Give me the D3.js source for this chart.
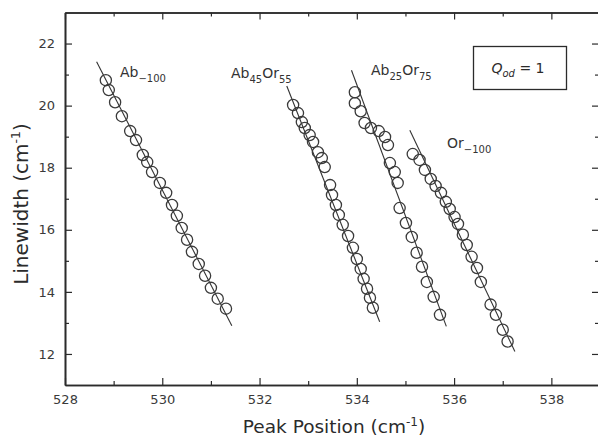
<!DOCTYPE html>
<html><head><meta charset="utf-8">
<script src="https://cdn.jsdelivr.net/npm/d3@7"></script>
<style>
html,body{margin:0;padding:0;background:#fff;}
svg{display:block;font-family:"DejaVu Sans",sans-serif;}
</style></head>
<body><svg id="c" width="598" height="438"></svg>
<script>
// ---- data (Peak position cm^-1, Linewidth cm^-1) ----
const ab100X = [528.84,528.90,529.03,529.17,529.34,529.46,529.60,529.69,529.79,529.95,530.08,530.20,530.30,530.40,530.51,530.61,530.75,530.88,531.00,531.14,531.31];
const ab100Y = [20.82,20.50,20.11,19.66,19.18,18.89,18.41,18.18,17.86,17.51,17.19,16.80,16.45,16.06,15.68,15.29,14.90,14.52,14.13,13.78,13.46];
const ab100Fit = [[528.65,21.41],[531.43,12.91]];

const ab45X = [532.69,532.79,532.87,532.93,533.03,533.10,533.20,533.28,533.34,533.45,533.49,533.57,533.63,533.71,533.82,533.92,534.00,534.08,534.14,534.21,534.27,534.33];
const ab45Y = [20.02,19.76,19.47,19.28,19.05,18.83,18.50,18.31,18.02,17.44,17.12,16.80,16.48,16.16,15.80,15.42,15.06,14.74,14.42,14.10,13.81,13.49];
const ab45Fit = [[532.56,20.63],[534.47,13.04]];

const ab25X = [533.96,533.96,534.08,534.16,534.29,534.45,534.58,534.64,534.68,534.78,534.84,534.88,535.01,535.13,535.23,535.34,535.44,535.58,535.71];
const ab25Y = [20.43,20.08,19.82,19.44,19.28,19.18,18.99,18.73,18.15,17.86,17.51,16.70,16.22,15.77,15.26,14.81,14.32,13.84,13.26];
const ab25Fit = [[533.89,21.14],[535.84,12.89]];

const or100X = [535.15,535.29,535.40,535.52,535.62,535.73,535.83,535.91,536.01,536.08,536.18,536.26,536.36,536.47,536.55,536.75,536.86,537.00,537.10];
const or100Y = [18.44,18.25,17.93,17.64,17.41,17.19,16.90,16.67,16.41,16.19,15.84,15.51,15.13,14.77,14.32,13.59,13.26,12.78,12.40];
const or100Fit = [[535.09,19.21],[537.25,12.08]];

const xMajor = [528,530,532,534,536,538];
const xMinor = [529,531,533,535,537];
const yMajor = [12,14,16,18,20,22];
const yMinor = [13,15,17,19,21];

// ---- chart ----
const svg = d3.select("#c");
const L = 65, R = 600, T = 12.5, B = 385;
const x = d3.scaleLinear().domain([528,539]).range([L,R]);
const y = d3.scaleLinear().domain([11,23]).range([B,T]);
const ink = "#2b2b2b";

const series = [
  {xs:ab100X, ys:ab100Y, fit:ab100Fit},
  {xs:ab45X, ys:ab45Y, fit:ab45Fit},
  {xs:ab25X, ys:ab25Y, fit:ab25Fit},
  {xs:or100X, ys:or100Y, fit:or100Fit}
];

const line = d3.line().x(d=>x(d[0])).y(d=>y(d[1]));
series.forEach(s=>{
  svg.append("path").attr("d", line(s.fit)).attr("fill","none")
     .attr("stroke","#333").attr("stroke-width",1.1);
});
series.forEach(s=>{
  svg.append("g").selectAll("circle").data(d3.range(s.xs.length)).join("circle")
    .attr("cx",i=>x(s.xs[i])).attr("cy",i=>y(s.ys[i])).attr("r",5.6)
    .attr("fill","none").attr("stroke","#3a3a3a").attr("stroke-width",1.3);
});

// axes
function styleAxis(g){
  g.select(".domain").attr("stroke",ink).attr("stroke-width",1.6);
  g.selectAll(".tick line").attr("stroke",ink).attr("stroke-width",1.2);
  g.selectAll(".tick text").attr("fill","#3a3a3a").attr("font-size",13)
   .attr("font-family","DejaVu Sans, sans-serif");
}
svg.append("g").attr("transform",`translate(0,${B})`)
  .call(d3.axisBottom(x).tickValues(xMajor).tickSize(-7).tickSizeOuter(0).tickPadding(10).tickFormat(d3.format("d"))).call(styleAxis);
svg.append("g").attr("transform",`translate(0,${B})`)
  .call(d3.axisBottom(x).tickValues(xMinor).tickSize(-4).tickSizeOuter(0).tickFormat("")).call(styleAxis);
svg.append("g").attr("transform",`translate(0,${T})`)
  .call(d3.axisTop(x).tickValues(xMajor).tickSize(-7).tickSizeOuter(0).tickFormat("")).call(styleAxis);
svg.append("g").attr("transform",`translate(0,${T})`)
  .call(d3.axisTop(x).tickValues(xMinor).tickSize(-4).tickSizeOuter(0).tickFormat("")).call(styleAxis);
svg.append("g").attr("transform",`translate(${L},0)`)
  .call(d3.axisLeft(y).tickValues(yMajor).tickSize(-7).tickSizeOuter(0).tickPadding(10).tickFormat(d3.format("d"))).call(styleAxis);
svg.append("g").attr("transform",`translate(${L},0)`)
  .call(d3.axisLeft(y).tickValues(yMinor).tickSize(-4).tickSizeOuter(0).tickFormat("")).call(styleAxis);
svg.append("g").attr("transform",`translate(${R-1},0)`)
  .call(d3.axisRight(y).tickValues(yMajor).tickSize(-7).tickSizeOuter(0).tickFormat("")).call(styleAxis);
svg.append("g").attr("transform",`translate(${R-1},0)`)
  .call(d3.axisRight(y).tickValues(yMinor).tickSize(-4).tickSizeOuter(0).tickFormat("")).call(styleAxis);

// axis titles
const xt = svg.append("text").attr("x",334).attr("y",433).attr("text-anchor","middle")
  .attr("font-size",18.5).attr("fill",ink);
xt.append("tspan").text("Peak Position  (cm");
xt.append("tspan").attr("font-size",12).attr("dy",-7).text("-1");
xt.append("tspan").attr("dy",7).text(")");

const yt = svg.append("text").attr("transform","translate(28,204) rotate(-90)").attr("text-anchor","middle")
  .attr("font-size",20).attr("fill",ink);
yt.append("tspan").text("Linewidth  (cm");
yt.append("tspan").attr("font-size",12.5).attr("dy",-8).text("-1");
yt.append("tspan").attr("dy",8).text(")");

// series labels
function lab(px,py,parts){
  const t = svg.append("text").attr("x",px).attr("y",py).attr("font-size",14).attr("fill","#333");
  parts.forEach(p=>{
    if(p[1]) t.append("tspan").attr("font-size",10).attr("dy",5).text(p[0]);
    else t.append("tspan").attr("font-size",14).attr("dy",p[2]||0).text(p[0]);
  });
}
lab(120,77,[["Ab"],["−100",1]]);
lab(231,78,[["Ab"],["45",1],["Or",0,-5],["55",1]]);
lab(371,75,[["Ab"],["25",1],["Or",0,-5],["75",1]]);
lab(447,148,[["Or"],["−100",1]]);

// Q box
svg.append("rect").attr("x",473.5).attr("y",46.5).attr("width",93).attr("height",43)
  .attr("fill","none").attr("stroke",ink).attr("stroke-width",1.3);
const q = svg.append("text").attr("x",518).attr("y",73).attr("text-anchor","middle").attr("font-size",14).attr("fill",ink);
q.append("tspan").attr("font-style","italic").text("Q");
q.append("tspan").attr("font-style","italic").attr("font-size",10).attr("dy",4).text("od");
q.append("tspan").attr("dy",-4).text(" = 1");
</script></body></html>
